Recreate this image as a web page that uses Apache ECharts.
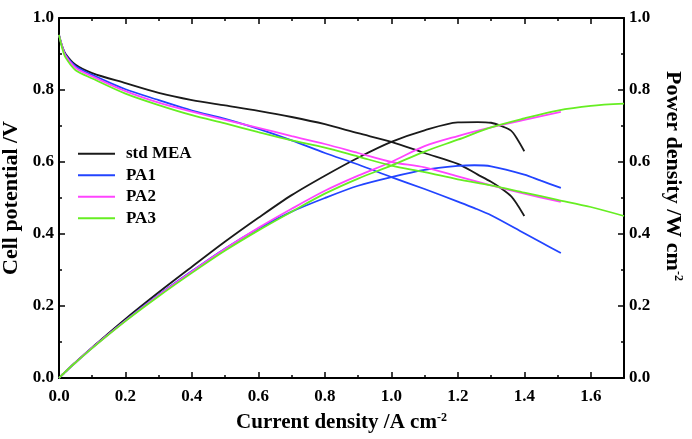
<!DOCTYPE html>
<html>
<head>
<meta charset="utf-8">
<script src="https://cdn.jsdelivr.net/npm/echarts@6/dist/echarts.min.js"></script>
<style>
  html, body { margin: 0; padding: 0; background: #fff; }
  #chart { width: 692px; height: 439px; }
</style>
</head>
<body>
<div id="chart"></div>
<script>
// current density (A cm-2), cell potential (V), power density (W cm-2)
var stdCurrent = [0, 0.01, 0.02, 0.05, 0.1, 0.2, 0.3, 0.4, 0.5, 0.6, 0.7, 0.8, 0.9, 1.0, 1.1, 1.2, 1.26, 1.3, 1.33, 1.36, 1.38, 1.4]
var stdVoltage = [0.953, 0.92, 0.9, 0.87, 0.847, 0.819, 0.792, 0.772, 0.757, 0.742, 0.725, 0.705, 0.68, 0.656, 0.625, 0.595, 0.565, 0.545, 0.527, 0.505, 0.48, 0.45]
var stdPower = [0, 0.009, 0.018, 0.044, 0.085, 0.164, 0.238, 0.309, 0.379, 0.445, 0.508, 0.562, 0.612, 0.656, 0.688, 0.71, 0.711, 0.709, 0.7, 0.687, 0.662, 0.63]

var pa1Current = [0, 0.01, 0.02, 0.05, 0.1, 0.2, 0.3, 0.4, 0.5, 0.6, 0.7, 0.8, 0.9, 1.0, 1.1, 1.2, 1.25, 1.3, 1.4, 1.45, 1.51]
var pa1Voltage = [0.953, 0.92, 0.897, 0.866, 0.842, 0.802, 0.772, 0.743, 0.72, 0.692, 0.66, 0.625, 0.593, 0.558, 0.525, 0.49, 0.472, 0.452, 0.402, 0.377, 0.347]
var pa1Power = [0, 0.009, 0.018, 0.043, 0.084, 0.16, 0.231, 0.297, 0.36, 0.415, 0.462, 0.5, 0.534, 0.558, 0.578, 0.589, 0.591, 0.588, 0.565, 0.548, 0.528]

var pa2Current = [0, 0.01, 0.02, 0.05, 0.1, 0.2, 0.3, 0.4, 0.5, 0.6, 0.7, 0.8, 0.9, 1.0, 1.1, 1.2, 1.3, 1.4, 1.51]
var pa2Voltage = [0.953, 0.92, 0.895, 0.862, 0.838, 0.797, 0.765, 0.74, 0.717, 0.695, 0.672, 0.65, 0.625, 0.6, 0.585, 0.56, 0.535, 0.512, 0.489]
var pa2Power = [0, 0.009, 0.018, 0.043, 0.084, 0.159, 0.23, 0.296, 0.359, 0.417, 0.47, 0.52, 0.562, 0.6, 0.644, 0.672, 0.696, 0.717, 0.739]

var pa3Current = [0, 0.01, 0.02, 0.05, 0.1, 0.2, 0.3, 0.4, 0.5, 0.6, 0.7, 0.8, 0.9, 1.0, 1.1, 1.2, 1.3, 1.4, 1.5, 1.6, 1.7]
var pa3Voltage = [0.953, 0.915, 0.89, 0.855, 0.832, 0.79, 0.758, 0.73, 0.707, 0.683, 0.66, 0.64, 0.615, 0.59, 0.572, 0.552, 0.535, 0.515, 0.495, 0.475, 0.45]
var pa3Power = [0, 0.009, 0.018, 0.043, 0.083, 0.158, 0.227, 0.292, 0.354, 0.41, 0.462, 0.512, 0.554, 0.59, 0.629, 0.662, 0.696, 0.721, 0.743, 0.756, 0.762]

var seriesNames = ['std MEA', 'PA1', 'PA2', 'PA3']
var seriesColors = ['#1a1a1a', '#2244ff', '#ff44ff', '#66ee22']

var chart = echarts.init(document.getElementById('chart'))

var font = 'Liberation Serif, Times New Roman, serif'

function pairs(xs, ys) {
  return xs.map(function (x, i) { return [x, ys[i]] })
}

var groups = [
  [stdCurrent, stdVoltage, stdPower],
  [pa1Current, pa1Voltage, pa1Power],
  [pa2Current, pa2Voltage, pa2Power],
  [pa3Current, pa3Voltage, pa3Power]
]

var series = []
groups.forEach(function (g, i) {
  var base = {
    name: seriesNames[i],
    type: 'line',
    smooth: 0.3,
    showSymbol: false,
    lineStyle: { width: 1.8, color: seriesColors[i] },
    itemStyle: { color: seriesColors[i] },
    animation: false
  }
  series.push(Object.assign({}, base, { yAxisIndex: 0, data: pairs(g[0], g[1]) }))
  series.push(Object.assign({}, base, { yAxisIndex: 1, data: pairs(g[0], g[2]) }))
})

var labelStyle = { color: '#000', fontFamily: font, fontWeight: 'bold', fontSize: 17 }

// every axis gets its own copies, ticks drawn inside the frame
function frameParts() {
  return {
    axisLine: { show: true, onZero: false, lineStyle: { color: '#000', width: 2 } },
    axisTick: { show: true, inside: true, length: 6, lineStyle: { color: '#000', width: 1.5 } },
    minorTick: { show: true, splitNumber: 2, length: 3, lineStyle: { color: '#000', width: 1.5 } },
    splitLine: { show: false }
  }
}

function nameRich(size) {
  return {
    t: { fontFamily: font, fontWeight: 'bold', fontSize: size, color: '#000' },
    sup: { fontFamily: font, fontWeight: 'bold', fontSize: Math.round(size * 0.55), color: '#000', verticalAlign: 'top' }
  }
}

chart.setOption({
  backgroundColor: '#fff',
  grid: { left: 59, right: 68, top: 18, bottom: 61, containLabel: false, outerBoundsMode: 'none' },
  legend: {
    data: seriesNames,
    orient: 'vertical',
    left: 73,
    top: 140,
    icon: 'rect',
    itemWidth: 37,
    itemHeight: 2,
    itemGap: 4,
    textStyle: Object.assign({}, labelStyle, { lineHeight: 17.5, padding: [0, 0, 0, 6] })
  },
  xAxis: [Object.assign(frameParts(), {
    type: 'value',
    min: 0,
    max: 1.7,
    interval: 0.2,
    position: 'bottom',
    axisLabel: Object.assign({ margin: 10, showMaxLabel: false, formatter: function (v) { return v.toFixed(1) } }, labelStyle),
    name: '{t|Current density /A cm}{sup|-2}',
    nameLocation: 'middle',
    nameGap: 34,
    nameTextStyle: { rich: nameRich(21) }
  }), Object.assign(frameParts(), {
    type: 'value',
    min: 0,
    max: 1.7,
    interval: 0.2,
    position: 'top',
    axisLabel: { show: false }
  })],
  yAxis: [Object.assign(frameParts(), {
    type: 'value',
    min: 0,
    max: 1,
    interval: 0.2,
    position: 'left',
    axisLabel: Object.assign({ margin: 5, formatter: function (v) { return v.toFixed(1) } }, labelStyle),
    name: '{t|Cell potential /V}',
    nameLocation: 'middle',
    nameGap: 31,
    nameTextStyle: { rich: nameRich(22) }
  }), Object.assign(frameParts(), {
    type: 'value',
    min: 0,
    max: 1,
    interval: 0.2,
    position: 'right',
    axisLabel: Object.assign({ margin: 5, formatter: function (v) { return v.toFixed(1) } }, labelStyle),
    name: '{t|Power density /W cm}{sup|-2}',
    nameLocation: 'middle',
    nameRotate: -90,
    nameGap: 38,
    nameTextStyle: { rich: nameRich(22), padding: [0, 44, 0, 0] }
  })],
  series: series
})
</script>
</body>
</html>
